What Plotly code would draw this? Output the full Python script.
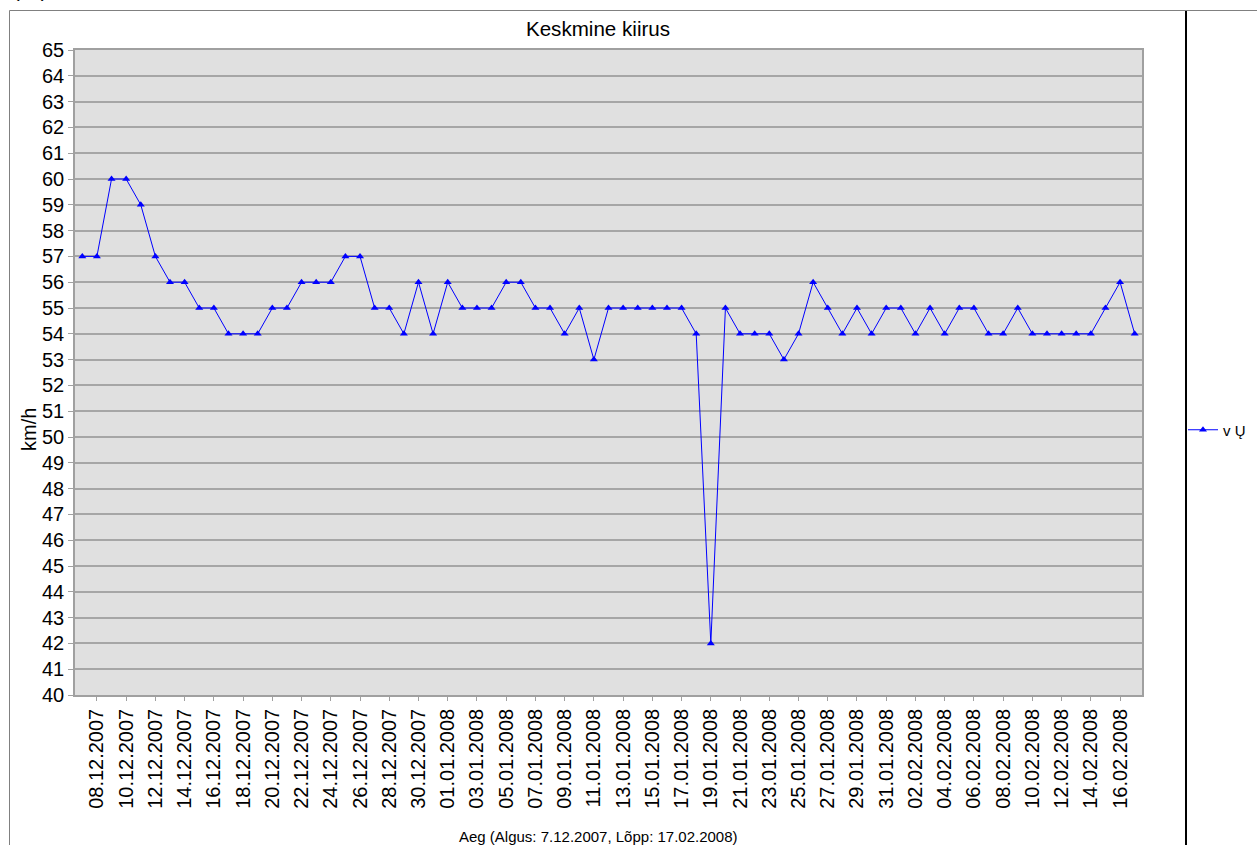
import plotly.graph_objects as go

# ---------------- data ----------------
dates = [
    "07.12.2007", "08.12.2007", "09.12.2007", "10.12.2007", "11.12.2007", "12.12.2007",
    "13.12.2007", "14.12.2007", "15.12.2007", "16.12.2007", "17.12.2007", "18.12.2007",
    "19.12.2007", "20.12.2007", "21.12.2007", "22.12.2007", "23.12.2007", "24.12.2007",
    "25.12.2007", "26.12.2007", "27.12.2007", "28.12.2007", "29.12.2007", "30.12.2007",
    "31.12.2007", "01.01.2008", "02.01.2008", "03.01.2008", "04.01.2008", "05.01.2008",
    "06.01.2008", "07.01.2008", "08.01.2008", "09.01.2008", "10.01.2008", "11.01.2008",
    "12.01.2008", "13.01.2008", "14.01.2008", "15.01.2008", "16.01.2008", "17.01.2008",
    "18.01.2008", "19.01.2008", "20.01.2008", "21.01.2008", "22.01.2008", "23.01.2008",
    "24.01.2008", "25.01.2008", "26.01.2008", "27.01.2008", "28.01.2008", "29.01.2008",
    "30.01.2008", "31.01.2008", "01.02.2008", "02.02.2008", "03.02.2008", "04.02.2008",
    "05.02.2008", "06.02.2008", "07.02.2008", "08.02.2008", "09.02.2008", "10.02.2008",
    "11.02.2008", "12.02.2008", "13.02.2008", "14.02.2008", "15.02.2008", "16.02.2008",
    "17.02.2008",
]
speed = [
    57, 57, 60, 60, 59, 57, 56, 56, 55, 55, 54, 54,
    54, 55, 55, 56, 56, 56, 57, 57, 55, 55, 54, 56,
    54, 56, 55, 55, 55, 56, 56, 55, 55, 54, 55, 53,
    55, 55, 55, 55, 55, 55, 54, 42, 55, 54, 54, 54,
    53, 54, 56, 55, 54, 55, 54, 55, 55, 54, 55, 54,
    55, 55, 54, 54, 55, 54, 54, 54, 54, 54, 55, 56,
    54,
]
tick_dates = dates[1::2]
y_ticks = list(range(40, 66))

series_name = "v Ų"
chart_title = "Keskmine kiirus"
y_title = "km/h"
x_title = "Aeg (Algus: 7.12.2007, Lõpp: 17.02.2008)"

# ---------------- layout geometry ----------------
W, H = 1257, 845
L, R, T, B = 75, 115, 50, 150
PW = W - L - R
PH = H - T - B


def px(x):
    return (x - L) / PW


def py(y):
    return (H - B - y) / PH


FONT = "Liberation Sans, Arial, sans-serif"

fig = go.Figure()
fig.add_trace(go.Scatter(
    x=dates, y=speed, mode="lines+markers", name=series_name,
    line=dict(color="#0000ff", width=1),
    marker=dict(symbol="triangle-up", size=7, color="#0000ff"),
))

fig.update_layout(
    width=W, height=H,
    margin=dict(l=L, r=R, t=T, b=B, autoexpand=False),
    paper_bgcolor="white",
    plot_bgcolor="#e0e0e0",
    font=dict(family=FONT, color="black"),
    title=dict(text=chart_title, x=px(598), xref="paper", xanchor="center",
               y=1 - 29 / H, yanchor="middle", font=dict(size=20.6, family=FONT)),
    showlegend=True,
    legend=dict(x=px(1183), xanchor="left", y=py(430), yanchor="middle",
                font=dict(size=15, family=FONT), bgcolor="rgba(0,0,0,0)",
                itemwidth=30),
    xaxis=dict(
        type="category", range=[-0.5, len(dates) - 0.5],
        tickmode="array", tickvals=tick_dates, ticktext=tick_dates,
        tickangle=-90, tickfont=dict(size=20, family=FONT),
        ticks="outside", ticklen=4, tickcolor="#a0a0a0",
        showline=True, linecolor="#a0a0a0", linewidth=1.5, mirror=True,
        showgrid=False, zeroline=False,
    ),
    yaxis=dict(
        range=[40, 65], tickmode="array", tickvals=y_ticks,
        tickfont=dict(size=20, family=FONT),
        ticks="outside", ticklen=5, tickcolor="#a0a0a0",
        showline=True, linecolor="#a0a0a0", linewidth=1.5, mirror=True,
        showgrid=True, gridcolor="#a6a6a6", gridwidth=1.5, zeroline=False,
    ),
)

fig.add_annotation(text=y_title, xref="paper", yref="paper", x=px(29), y=py(430),
                   textangle=-90, showarrow=False, font=dict(size=20, family=FONT),
                   xanchor="center", yanchor="middle")
fig.add_annotation(text=x_title, xref="paper", yref="paper", x=px(598), y=py(836),
                   showarrow=False, font=dict(size=15, family=FONT),
                   xanchor="center", yanchor="middle")
fig.add_annotation(text="( v )", xref="paper", yref="paper", x=px(11), y=py(3),
                   showarrow=False, font=dict(size=20, family=FONT),
                   xanchor="left", yanchor="bottom")

# outer frame lines
fig.add_shape(type="path", xref="paper", yref="paper",
              path=f"M {px(9.5)} {py(H + 5)} L {px(9.5)} {py(10.5)} L {px(W + 5)} {py(10.5)}",
              line=dict(color="#808080", width=1))
fig.add_shape(type="line", xref="paper", yref="paper",
              x0=px(1186), x1=px(1186), y0=py(11), y1=py(H + 5),
              line=dict(color="black", width=2))

fig.write_html(
    "out.html",
    config={"displayModeBar": False},
    post_script="document.body.style.margin='0px';document.body.style.overflow='hidden';",
)
